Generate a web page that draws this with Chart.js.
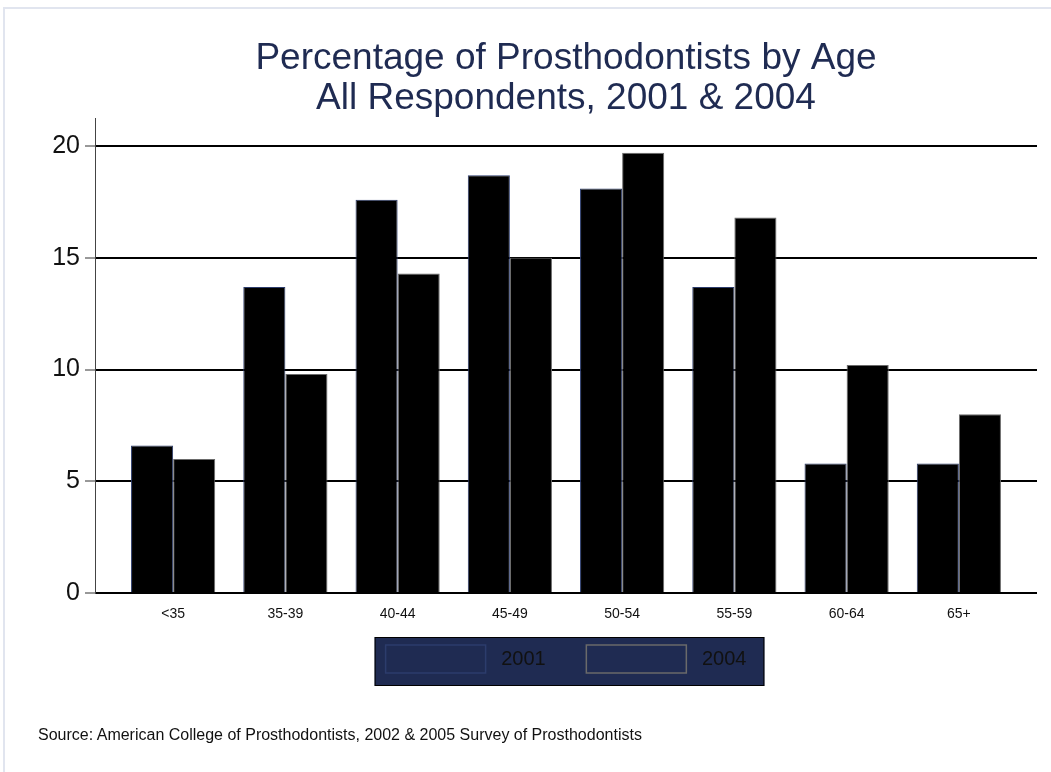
<!DOCTYPE html>
<html>
<head>
<meta charset="utf-8">
<script src="https://cdn.jsdelivr.net/npm/chart.js@4.4.0/dist/chart.umd.min.js"></script>
<style>
  body { margin: 0; background: #fff; font-family: "Liberation Sans", Arial, sans-serif; }
  #wrap { position: relative; width: 1051px; height: 772px; overflow: hidden; }
  #frame { position: absolute; left: 3px; top: 7px; width: 1100px; height: 900px; border: 2px solid #e1e5ef; }
  #source { position: absolute; left: 38px; top: 726px; font-size: 16px; color: #111; }
</style>
</head>
<body>
<div id="wrap">
  <div id="frame"></div>
  <canvas id="ageChart"></canvas>
  <div id="source">Source: American College of Prosthodontists, 2002 &amp; 2005 Survey of Prosthodontists</div>
</div>
<script>
// Data
var ageGroups = ['<35', '35-39', '40-44', '45-49', '50-54', '55-59', '60-64', '65+']
var pct2001 = [6.6, 13.7, 17.6, 18.7, 18.1, 13.7, 5.8, 5.8]
var pct2004 = [6.0, 9.8, 14.3, 15.0, 19.7, 16.8, 10.2, 8.0]
var yTicks = [0, 5, 10, 15, 20]

var navy = '#1f2b52'

// Draws the navy box behind the legend items
var legendBox = {
  id: 'legendBox',
  beforeDraw: function (chart) {
    var hb = chart.legend.legendHitBoxes
    if (!hb || !hb.length) return
    var last = hb[hb.length - 1]
    var x1 = hb[0].left - 11
    var x2 = last.left + last.width + 18
    var y1 = hb[0].top - 8
    var y2 = hb[0].top + hb[0].height + 13
    var ctx = chart.ctx
    ctx.save()
    ctx.fillStyle = navy
    ctx.fillRect(x1, y1, x2 - x1, y2 - y1)
    ctx.strokeStyle = '#000'
    ctx.lineWidth = 1
    ctx.strokeRect(x1 + 0.5, y1 + 0.5, x2 - x1 - 1, y2 - y1 - 1)
    ctx.restore()
  }
}

function toPoints(values) {
  return values.map(function (v, i) { return { x: i, y: v } })
}

var ctx = document.getElementById('ageChart').getContext('2d')
var chart = new Chart(ctx, {
  type: 'bar',
  data: {
    datasets: [
      {
        label: '2001',
        data: toPoints(pct2001),
        backgroundColor: '#000',
        borderColor: '#2c3c6c',
        borderWidth: 1
      },
      {
        label: '2004',
        data: toPoints(pct2004),
        backgroundColor: '#000',
        borderColor: '#6a6a6a',
        borderWidth: 1
      }
    ]
  },
  plugins: [legendBox],
  options: {
    responsive: true,
    maintainAspectRatio: false,
    animation: false,
    categoryPercentage: 0.75,
    barPercentage: 1,
    layout: { padding: { top: 39, right: 14, bottom: 89, left: 0 } },
    scales: {
      x: {
        type: 'linear',
        min: -0.696,
        max: 7.696,
        offset: false,
        afterBuildTicks: function (scale) {
          scale.ticks = ageGroups.map(function (g, i) { return { value: i } })
        },
        afterFit: function (scale) { scale.height = 28 },
        grid: { display: false, drawTicks: false },
        border: { display: false },
        ticks: {
          padding: 13,
          color: '#111',
          font: { family: 'Liberation Sans', size: 14 },
          maxRotation: 0,
          autoSkip: false,
          callback: function (value) { return ageGroups[value] }
        }
      },
      y: {
        min: 0,
        max: 21.25,
        afterBuildTicks: function (scale) {
          scale.ticks = yTicks.map(function (v) { return { value: v } })
        },
        afterFit: function (scale) { scale.width = 95 },
        grid: {
          color: '#000',
          lineWidth: 2,
          tickLength: 10,
          tickWidth: 1,
          tickColor: '#333'
        },
        border: { display: true, color: '#444', width: 1 },
        ticks: {
          padding: 5,
          color: '#111',
          font: { family: 'Liberation Sans', size: 25 }
        }
      }
    },
    plugins: {
      title: {
        display: true,
        fullSize: false,
        text: ['Percentage of Prosthodontists by Age', 'All Respondents, 2001 & 2004'],
        color: navy,
        font: { family: 'Liberation Sans', size: 37, weight: 'normal', lineHeight: 1.07 },
        padding: { top: 0, bottom: 0 }
      },
      legend: {
        position: 'bottom',
        fullSize: false,
        labels: {
          boxWidth: 100,
          boxHeight: 28,
          padding: 24,
          color: '#111',
          font: { family: 'Liberation Sans', size: 20 },
          generateLabels: function (chart) {
            var n = chart.data.datasets.length
            return chart.data.datasets.map(function (ds, i) {
              return {
                // extra trailing spaces widen the gap to the next key
                text: ' ' + ds.label + (i < n - 1 ? '   ' : ''),
                fillStyle: navy,
                strokeStyle: ds.borderColor,
                lineWidth: 1.5,
                fontColor: '#111',
                datasetIndex: i,
                hidden: false
              }
            })
          }
        }
      },
      tooltip: { enabled: false }
    }
  }
})
</script>
</body>
</html>
